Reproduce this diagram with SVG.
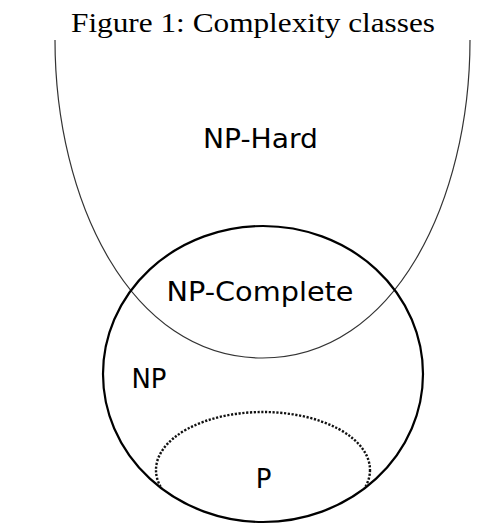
<svg xmlns="http://www.w3.org/2000/svg" width="489" height="527" viewBox="0 0 489 527">
<style>
.lbl{font-family:"DejaVu Sans","Liberation Sans",sans-serif;font-size:26px;fill:#000;text-anchor:middle}
.title{font-family:"Liberation Serif","DejaVu Serif",serif;font-size:28px;fill:#000;text-anchor:middle}
</style>
<defs>
<clipPath id="npclip"><ellipse cx="263" cy="374" rx="159" ry="147"/></clipPath>
</defs>
<rect width="489" height="527" fill="#fff"/>
<text class="title" x="253" y="32" textLength="364" lengthAdjust="spacingAndGlyphs">Figure 1: Complexity classes</text>
<g id="nphard">
<path d="M55,40 C55,200 130,358 262.5,358 C395,358 470,200 470,40" fill="none" stroke="#333" stroke-width="1.2"/>
<text class="lbl" x="260.5" y="148" textLength="115" lengthAdjust="spacingAndGlyphs">NP-Hard</text>
</g>
<g id="np">
<ellipse cx="263" cy="374" rx="160" ry="148" fill="none" stroke="#000" stroke-width="2.2"/>
<text class="lbl" x="149" y="388" textLength="35" lengthAdjust="spacingAndGlyphs">NP</text>
</g>
<g id="npcomplete">
<text class="lbl" x="260" y="301" textLength="187" lengthAdjust="spacingAndGlyphs">NP-Complete</text>
</g>
<g id="p">
<ellipse cx="263" cy="470" rx="107" ry="58" fill="none" stroke="#111" stroke-width="2.4" stroke-dasharray="2.2 1.6" clip-path="url(#npclip)"/>
<text class="lbl" x="263.5" y="488">P</text>
</g>
</svg>
